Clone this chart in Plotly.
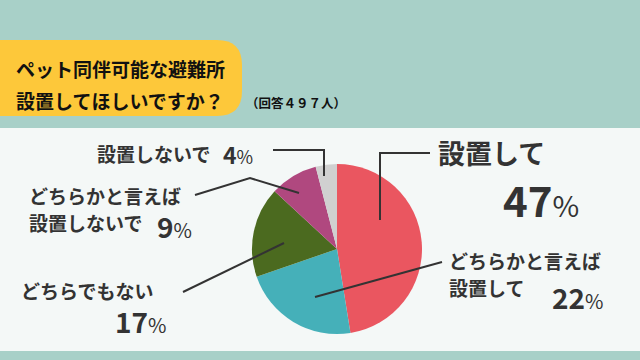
import plotly.graph_objects as go

labels = ["設置して", "どちらかと言えば設置して", "どちらでもない", "どちらかと言えば設置しないで", "設置しないで"]
values = [47, 22, 17, 9, 4]
colors = ["#ea5660", "#45b0b9", "#4b6a1f", "#b0487f", "#d0d0d0"]

title_lines = ["ペット同伴可能な避難所", "設置してほしいですか？"]
subtitle = "（回答４９７人）"

W, H = 640, 360
FONT = "Noto Sans CJK JP"
TXT = "#333333"

fig = go.Figure()
fig.add_trace(go.Pie(
    labels=labels, values=values, sort=False, direction="clockwise", rotation=0,
    marker=dict(colors=colors, line=dict(width=0)),
    textinfo="none", hoverinfo="label+percent", showlegend=False,
    domain=dict(x=[(337 - 85) / W, (337 + 85) / W], y=[(111 - 85) / H, (111 + 85) / H]),
))

shapes = []
shapes.append(dict(type="rect", xref="x", yref="y", x0=0, x1=W, y0=0, y1=H, fillcolor="#a8d0c8", line_width=0, layer="below"))
shapes.append(dict(type="rect", xref="x", yref="y", x0=0, x1=W, y0=128, y1=351, fillcolor="#f4f8f7", line_width=0, layer="below"))
shapes.append(dict(type="path", xref="x", yref="y",
                   path="M 0,40 L 217,40 Q 242,40 242,65 L 242,91 Q 242,116 217,116 L 0,116 Z",
                   fillcolor="#fdc83a", line_width=0, layer="below"))

def poly(pts):
    d = "M " + " L ".join(f"{x},{y}" for x, y in pts)
    shapes.append(dict(type="path", xref="x", yref="y", path=d, line=dict(color="#333333", width=2)))

poly([(273, 150), (324, 150), (324, 176)])
poly([(195, 195), (250, 178), (299, 193)])
poly([(183, 292), (284, 243)])
poly([(430, 153), (380, 153), (380, 220)])
poly([(442, 262), (315, 297)])

ann = []
def text(x, y, t, size, anchor="left", color=TXT):
    ann.append(dict(x=x, y=y, xref="x", yref="y", text=t, showarrow=False, xanchor=anchor, yanchor="middle",
                    font=dict(family=FONT, size=size, color=color)))

def pct(v, small):
    return f"<b>{v}</b><span style='font-size:{small}px'>%</span>"

text(14, 68, "<b>" + title_lines[0] + "</b>", 19, color="#111111")
text(14, 100, "<b>" + title_lines[1] + "</b>", 19, color="#111111")
text(244, 102, "<b>" + subtitle + "</b>", 12.5, color="#111111")

text(95, 153, "<b>" + labels[4] + "</b>", 19)
text(221, 154, pct(values[4], 18), 23)

text(27, 195, "<b>どちらかと言えば</b>", 19)
text(27, 222, "<b>設置しないで</b>", 19)
text(155, 226, pct(values[3], 20), 28)

text(19, 290, "<b>" + labels[2] + "</b>", 19)
text(113, 321, pct(values[2], 20), 28)

text(436, 152, "<b>" + labels[0] + "</b>", 27)
text(501, 198, pct(values[0], 29), 42)

text(447, 260, "<b>どちらかと言えば</b>", 19)
text(447, 287, "<b>設置して</b>", 19)
text(550, 297, pct(values[1], 20), 28)

fig.update_layout(
    width=W, height=H, margin=dict(l=0, r=0, t=0, b=0),
    paper_bgcolor="#a8d0c8", plot_bgcolor="rgba(0,0,0,0)",
    xaxis=dict(range=[0, W], visible=False, fixedrange=True),
    yaxis=dict(range=[H, 0], visible=False, fixedrange=True),
    shapes=shapes, annotations=ann,
)
fig.write_html("out.html", config={"displayModeBar": False},
               post_script="document.body.style.margin='0';document.body.style.padding='0';")
